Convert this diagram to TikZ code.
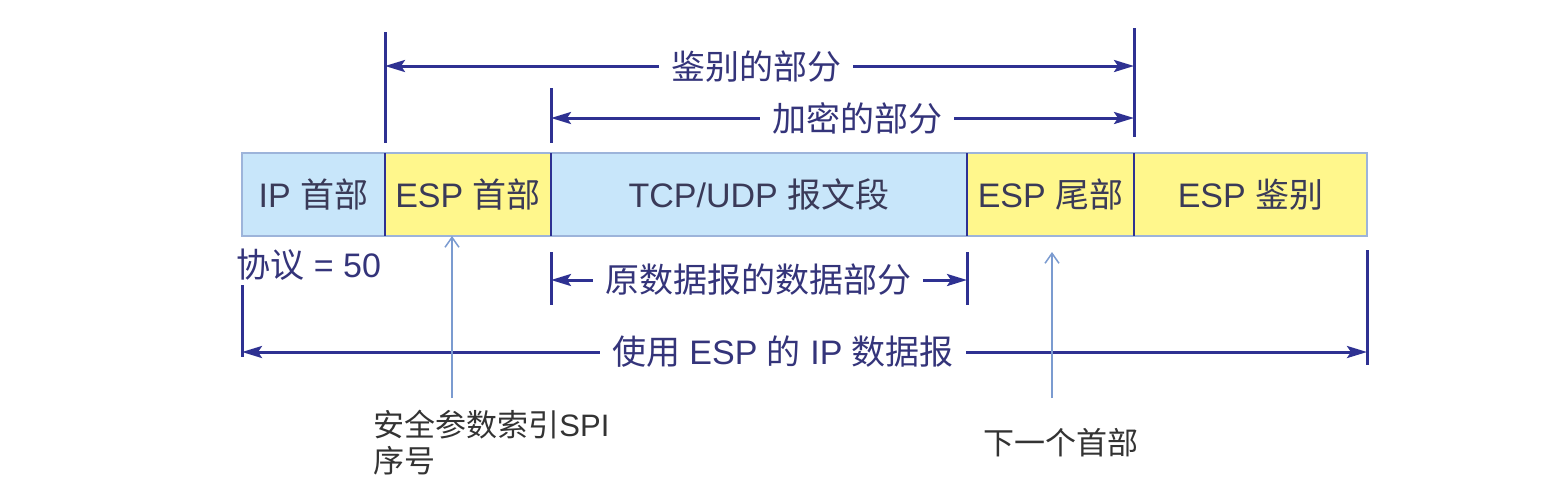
\documentclass[tikz,border=0pt]{standalone}
\usepackage{fontspec}
\setmainfont{Liberation Sans}
\newfontfamily\cjk{Noto Sans CJK SC}
\newcommand{\zh}[1]{{\cjk #1}}
\usetikzlibrary{arrows.meta}
\definecolor{boxblue}{HTML}{C8E6FA}
\definecolor{boxyellow}{HTML}{FFF78C}
\definecolor{navy}{HTML}{2E3192}
\definecolor{labelnavy}{HTML}{34347A}
\definecolor{boxtext}{HTML}{3A3A58}
\definecolor{thinblue}{HTML}{7B9BD0}
\definecolor{rim}{HTML}{9DB4DA}
\definecolor{graytext}{HTML}{333333}
\begin{document}
\begin{tikzpicture}[x=0.5pt,y=-0.5pt,
  field/.style={inner sep=0pt, outer sep=0pt, minimum height=41.5pt, text=boxtext, font=\fontsize{17pt}{20pt}\selectfont},
  tick/.style={draw=navy, line width=1.5pt},
  span/.style={draw=navy, line width=1.5pt, {Stealth[length=10pt,width=6pt,inset=2pt]}-{Stealth[length=10pt,width=6pt,inset=2pt]}},
  spanlabel/.style={fill=white, inner xsep=6pt, inner ysep=2pt, text=labelnavy, font=\fontsize{17pt}{20pt}\selectfont},
  pointer/.style={draw=thinblue, line width=0.75pt, -{Straight Barb[length=5pt,width=7pt]}},
  note/.style={text=graytext, font=\fontsize{15.5pt}{18pt}\selectfont, inner sep=0pt, align=left}
]
\useasboundingbox (0,0) rectangle (1558,500);

% fields
\node[field, fill=boxblue,   minimum width=71.5pt]  (ip)   at (313.5,194.5) {IP \zh{首部}};
\node[field, fill=boxyellow, minimum width=83pt]    (esph) at (468,194.5)   {ESP \zh{首部}};
\node[field, fill=boxblue,   minimum width=208pt]   (tcp)  at (759,194.5)   {TCP/UDP \zh{报文段}};
\node[field, fill=boxyellow, minimum width=83.5pt]  (espt) at (1050.5,194.5) {ESP \zh{尾部}};
\node[field, fill=boxyellow, minimum width=116.5pt] (espa) at (1250.5,194.5) {ESP \zh{鉴别}};
\draw[rim, line width=1pt] (ip.north west) rectangle (espa.south east);
\foreach \n in {esph,tcp,espt,espa}
  \draw[navy, line width=1pt] (\n.north west) -- (\n.south west);

% tick coordinates
\coordinate (t1a) at (385,32);   \coordinate (t1b) at (385,143);
\coordinate (t2a) at (1134,28);  \coordinate (t2b) at (1134,137);
\coordinate (t3a) at (551,88);   \coordinate (t3b) at (551,143);
\coordinate (t4a) at (551,252);  \coordinate (t4b) at (551,305);
\coordinate (t5a) at (967,252);  \coordinate (t5b) at (967,305);
\coordinate (t6a) at (242,285);  \coordinate (t6b) at (242,357);
\coordinate (t7a) at (1367,250); \coordinate (t7b) at (1367,365);
\draw[tick] (t1a) -- (t1b);
\draw[tick] (t2a) -- (t2b);
\draw[tick] (t3a) -- (t3b);
\draw[tick] (t4a) -- (t4b);
\draw[tick] (t5a) -- (t5b);
\draw[tick] (t6a) -- (t6b);
\draw[tick] (t7a) -- (t7b);

% span arrows
\coordinate (a1l) at (385,66);  \coordinate (a1r) at (1134,66);
\coordinate (a2l) at (551,118); \coordinate (a2r) at (1134,118);
\coordinate (a3l) at (551,280); \coordinate (a3r) at (967,280);
\coordinate (a4l) at (242,352); \coordinate (a4r) at (1367,352);
\draw[span] (a1l) -- (a1r);
\draw[span] (a2l) -- (a2r);
\draw[span] (a3l) -- (a3r);
\draw[span] (a4l) -- (a4r);
\node[spanlabel] (l1) at (756,67)  {\zh{鉴别的部分}};
\node[spanlabel] (l2) at (857,118) {\zh{加密的部分}};
\node[spanlabel] (l3) at (758,280) {\zh{原数据报的数据部分}};
\node[spanlabel] (l4) at (783,352) {\zh{使用} ESP \zh{的} IP \zh{数据报}};

\node[anchor=west, inner sep=0pt, text=labelnavy, font=\fontsize{17pt}{20pt}\selectfont] (proto) at (236,265) {\zh{协议} = 50};

% pointers
\node[note, anchor=north west] (spi) at (373,410) {\zh{安全参数索引}SPI\\\zh{序号}};
\node[note, anchor=center] (next) at (1061,443) {\zh{下一个首部}};
\coordinate (p1) at (452,398);
\coordinate (p2) at (1052,398);
\coordinate (p2e) at (1052,252);
\draw[pointer] (p1) -- (p1 |- esph.south);
\draw[pointer] (p2) -- (p2e);
\end{tikzpicture}
\end{document}
